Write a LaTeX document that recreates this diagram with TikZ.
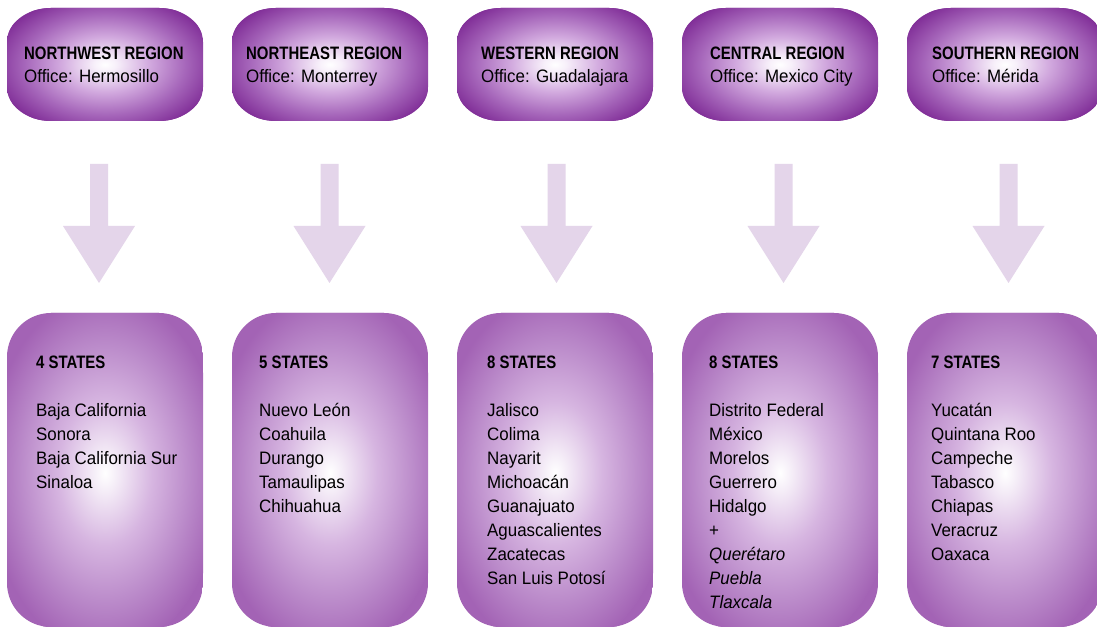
\documentclass[tikz,border=0pt]{standalone}
\usepackage{fontspec}
\setmainfont{Liberation Sans}[FakeStretch=0.94]
\newfontfamily\bfam{Liberation Sans}[FakeStretch=0.83]
\definecolor{topc}{rgb}{0.51,0.19,0.60}
\definecolor{botc}{rgb}{0.64,0.39,0.71}
\definecolor{arrc}{RGB}{228,213,234}
\pgfdeclareradialshading{glowtop}{\pgfpoint{0bp}{0bp}}{rgb(0bp)=(1,1,1); rgb(2.5bp)=(0.97,0.94,0.98); rgb(10bp)=(0.82,0.66,0.87); rgb(18bp)=(0.65,0.40,0.73); rgb(25bp)=(0.51,0.19,0.60); rgb(50bp)=(0.51,0.19,0.60)}
\pgfdeclareradialshading{glowbot}{\pgfpoint{0bp}{0bp}}{rgb(0bp)=(1,1,1); rgb(2.5bp)=(0.96,0.93,0.97); rgb(10bp)=(0.84,0.71,0.88); rgb(18bp)=(0.73,0.54,0.79); rgb(25bp)=(0.64,0.39,0.71); rgb(50bp)=(0.64,0.39,0.71)}
\newcommand\stk[2]{\vtop{\baselineskip=#1\relax #2}}
\newcommand\rw[1]{\hbox{#1}}
\newcommand\topbox[1]{%
\begin{scope}
\clip (#1+44,507) -- (#1+152,507) arc[start angle=-90,end angle=0,x radius=44pt,y radius=34pt] -- (#1+196,586) arc[start angle=0,end angle=90,x radius=44pt,y radius=34pt] -- (#1+44,620) arc[start angle=90,end angle=180,x radius=44pt,y radius=34pt] -- (#1,541) arc[start angle=180,end angle=270,x radius=44pt,y radius=34pt] -- cycle;
\fill[topc] (#1,505) rectangle (#1+196,622);
\shade[shading=glowtop] (#1+98,563.5) ellipse [x radius=112pt, y radius=70pt];
\end{scope}}
\newcommand\botbox[1]{%
\begin{scope}
\clip[rounded corners=44pt] (#1,1) rectangle (#1+196,315);
\fill[botc] (#1,0) rectangle (#1+196,316);
\shade[shading=glowbot] (#1+98,155) ellipse [x radius=118pt, y radius=180pt];
\end{scope}}
\newcommand\blockarrow[1]{%
\fill[arrc] (#1-9,464) -- (#1+9,464) -- (#1+9,402) -- (#1+36,402) -- (#1,345) -- (#1-36,402) -- (#1-9,402) -- cycle;}
\tikzset{txt/.style={anchor=base west, inner sep=0pt, font=\fontsize{18}{24}\selectfont}}
\begin{document}
\begin{tikzpicture}[x=1pt,y=1pt]
\clip (0,0) rectangle (1097,628);
\fill[white] (0,0) rectangle (1097,628);
% top boxes
\topbox{7}\topbox{232}\topbox{457}\topbox{682}\topbox{907}
% arrows
\blockarrow{99}\blockarrow{329.5}\blockarrow{556.5}\blockarrow{783.5}\blockarrow{1008.5}
% bottom boxes
\botbox{7}\botbox{232}\botbox{457}\botbox{682}\botbox{907}
% top texts
\node[txt] (r1) at (24,568) {\stk{23pt}{\rw{\bfam\bfseries NORTHWEST REGION}\rw{Office: Hermosillo}}};
\node[txt] (r2) at (246,568) {\stk{23pt}{\rw{\bfam\bfseries NORTHEAST REGION}\rw{Office: Monterrey}}};
\node[txt] (r3) at (481,568) {\stk{23pt}{\rw{\bfam\bfseries WESTERN REGION}\rw{Office: Guadalajara}}};
\node[txt] (r4) at (710,568) {\stk{23pt}{\rw{\bfam\bfseries CENTRAL REGION}\rw{Office: Mexico City}}};
\node[txt] (r5) at (932,568) {\stk{23pt}{\rw{\bfam\bfseries SOUTHERN REGION}\rw{Office: Mérida}}};
% bottom texts
\node[txt] (s1) at (36,259) {\stk{24pt}{\rw{\bfam\bfseries 4 STATES}\rw{}\rw{Baja California}\rw{Sonora}\rw{Baja California Sur}\rw{Sinaloa}}};
\node[txt] (s2) at (259,259) {\stk{24pt}{\rw{\bfam\bfseries 5 STATES}\rw{}\rw{Nuevo León}\rw{Coahuila}\rw{Durango}\rw{Tamaulipas}\rw{Chihuahua}}};
\node[txt] (s3) at (487,259) {\stk{24pt}{\rw{\bfam\bfseries 8 STATES}\rw{}\rw{Jalisco}\rw{Colima}\rw{Nayarit}\rw{Michoacán}\rw{Guanajuato}\rw{Aguascalientes}\rw{Zacatecas}\rw{San Luis Potosí}}};
\node[txt] (s4) at (709,259) {\stk{24pt}{\rw{\bfam\bfseries 8 STATES}\rw{}\rw{Distrito Federal}\rw{México}\rw{Morelos}\rw{Guerrero}\rw{Hidalgo}\rw{+}\rw{\itshape Querétaro}\rw{\itshape Puebla}\rw{\itshape Tlaxcala}}};
\node[txt] (s5) at (931,259) {\stk{24pt}{\rw{\bfam\bfseries 7 STATES}\rw{}\rw{Yucatán}\rw{Quintana Roo}\rw{Campeche}\rw{Tabasco}\rw{Chiapas}\rw{Veracruz}\rw{Oaxaca}}};
\end{tikzpicture}
\end{document}
